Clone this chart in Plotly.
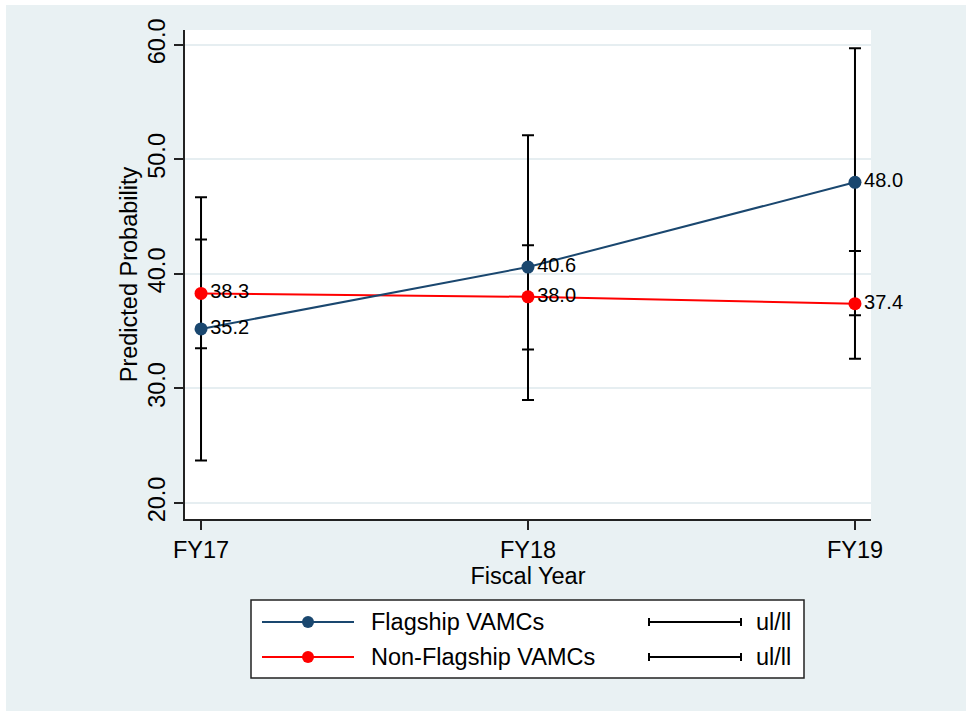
import plotly.graph_objects as go

# ---- data ----
years = ["FY17", "FY18", "FY19"]
flag = [35.2, 40.6, 48.0]
flag_ul = [46.7, 52.1, 59.7]
flag_ll = [23.7, 29.0, 36.4]
nonflag = [38.3, 38.0, 37.4]
nonflag_ul = [43.0, 42.5, 42.0]
nonflag_ll = [33.5, 33.4, 32.6]
y_ticks = [20, 30, 40, 50, 60]

# ---- style / layout ----
W, H = 966, 711
L, R, T, B = 185, 871, 30, 519
BG = "#E9F1F3"
NAVY = "#1A476F"
RED = "#FF0000"
FONT = "Liberation Sans, Arial, Helvetica, sans-serif"


def px(xp):
    return (xp - L) / (R - L)


def py(yp):
    return (B - yp) / (B - T)


fig = go.Figure()

# error bars (drawn first, under lines/markers)
for vals, ul, ll in [(flag, flag_ul, flag_ll), (nonflag, nonflag_ul, nonflag_ll)]:
    fig.add_trace(go.Scatter(
        x=years, y=vals, mode="markers",
        marker=dict(size=1, opacity=0),
        error_y=dict(type="data", symmetric=False,
                     array=[u - v for u, v in zip(ul, vals)],
                     arrayminus=[v - l for v, l in zip(vals, ll)],
                     color="black", thickness=2, width=6),
        showlegend=False, hoverinfo="skip", cliponaxis=False))

for vals, col, name in [(nonflag, RED, "Non-Flagship VAMCs"), (flag, NAVY, "Flagship VAMCs")]:
    fig.add_trace(go.Scatter(
        x=years, y=vals, mode="lines+markers+text", name=name,
        line=dict(color=col, width=2),
        marker=dict(color=col, size=13),
        text=[f"{v:.1f}" for v in vals],
        textposition="middle right",
        textfont=dict(family=FONT, size=20, color="black"),
        showlegend=False, cliponaxis=False))

shapes = []
# white strips at top and left of the outer region
shapes.append(dict(type="rect", xref="paper", yref="paper", layer="below",
                   x0=px(-10), x1=px(W + 10), y0=py(5), y1=py(-10),
                   fillcolor="white", line=dict(width=0)))
shapes.append(dict(type="rect", xref="paper", yref="paper", layer="below",
                   x0=px(-10), x1=px(6), y0=py(H + 10), y1=py(-10),
                   fillcolor="white", line=dict(width=0)))
# legend box
shapes.append(dict(type="rect", xref="paper", yref="paper",
                   x0=px(251), x1=px(804), y0=py(678), y1=py(600),
                   fillcolor="white", line=dict(color="#222222", width=1.5)))

annotations = []
rows = [(622, NAVY, "Flagship VAMCs"), (657, RED, "Non-Flagship VAMCs")]
for yrow, col, label in rows:
    shapes.append(dict(type="line", xref="paper", yref="paper",
                       x0=px(262), x1=px(354), y0=py(yrow), y1=py(yrow),
                       line=dict(color=col, width=2)))
    shapes.append(dict(type="circle", xref="paper", yref="paper",
                       xsizemode="pixel", ysizemode="pixel",
                       xanchor=px(308), yanchor=py(yrow),
                       x0=-6, x1=6, y0=-6, y1=6,
                       fillcolor=col, line=dict(color=col, width=0)))
    # error bar symbol
    shapes.append(dict(type="line", xref="paper", yref="paper",
                       x0=px(649), x1=px(741), y0=py(yrow), y1=py(yrow),
                       line=dict(color="black", width=2)))
    for xe in (649, 741):
        shapes.append(dict(type="line", xref="paper", yref="paper",
                           x0=px(xe), x1=px(xe), y0=py(yrow - 4), y1=py(yrow + 4),
                           line=dict(color="black", width=2)))
    annotations.append(dict(xref="paper", yref="paper", x=px(369), y=py(yrow),
                            xanchor="left", yanchor="middle", showarrow=False,
                            text=label, font=dict(family=FONT, size=23.5, color="black")))
    annotations.append(dict(xref="paper", yref="paper", x=px(754), y=py(yrow),
                            xanchor="left", yanchor="middle", showarrow=False,
                            text="ul/ll", font=dict(family=FONT, size=23.5, color="black")))

fig.update_layout(
    width=W, height=H,
    margin=dict(l=L, r=W - R, t=T, b=H - B, pad=0),
    paper_bgcolor=BG, plot_bgcolor="white",
    font=dict(family=FONT, size=23.5, color="black"),
    shapes=shapes, annotations=annotations,
    showlegend=False,
    xaxis=dict(type="category", range=[-0.049, 2.049],
               showline=True, linecolor="#222222", linewidth=1.5,
               ticks="outside", ticklen=9, tickwidth=1.5, tickcolor="#222222",
               showgrid=False, zeroline=False,
               tickfont=dict(size=23.5),
               title=dict(text="Fiscal Year", standoff=2, font=dict(size=23.5))),
    yaxis=dict(range=[18.6, 61.3], tickvals=y_ticks,
               ticktext=[f"{v:.1f}" for v in y_ticks],
               tickangle=-90,
               showline=True, linecolor="#222222", linewidth=1.5,
               ticks="outside", ticklen=9, tickwidth=1.5, tickcolor="#222222",
               showgrid=True, gridcolor="#E6EEF1", gridwidth=1.5,
               zeroline=False,
               tickfont=dict(size=23.5),
               title=dict(text="Predicted Probability", standoff=0, font=dict(size=23.5))),
)

fig.write_html("out.html")
